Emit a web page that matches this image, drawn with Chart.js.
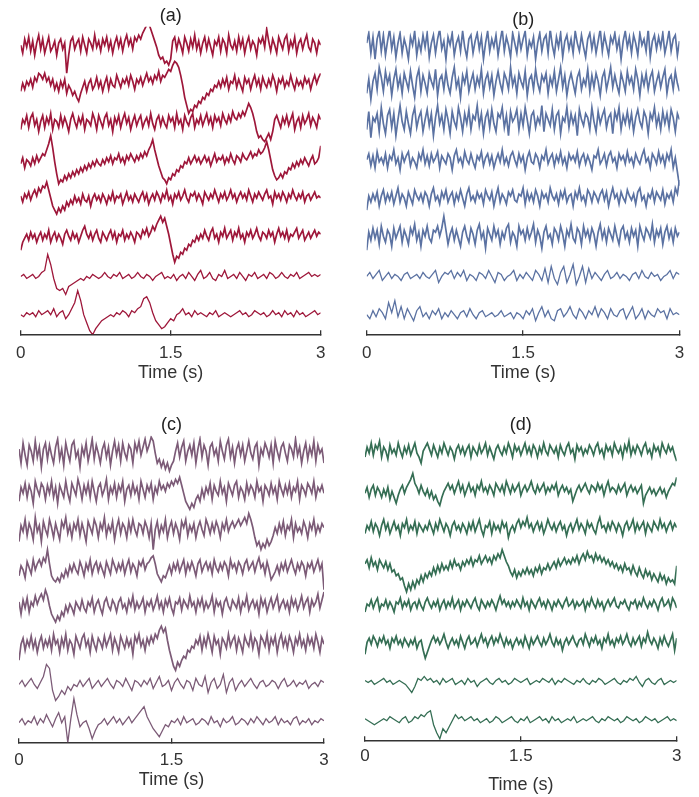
<!DOCTYPE html>
<html>
<head>
<meta charset="utf-8">
<script src="https://cdn.jsdelivr.net/npm/chart.js@4.4.1/dist/chart.umd.min.js"></script>
<style>
  body { margin: 0; background: #fff; width: 699px; height: 797px; position: relative; overflow: hidden; }
  canvas { position: absolute; }
</style>
</head>
<body>
<canvas id="panelA" width="340" height="384" style="left:0px;top:0px"></canvas>
<canvas id="panelB" width="350" height="384" style="left:347px;top:0px"></canvas>
<canvas id="panelC" width="345" height="386" style="left:0px;top:405px"></canvas>
<canvas id="panelD" width="354" height="391" style="left:345px;top:405px"></canvas>
<script>
// time axis
const tickValues = [0, 1.5, 3];
const duration = 3; // s, samples are evenly spread over this span

// channel values, top channel first (amplitude units)
const a1 = [1,-3,4,0,5,-2,3,-4,2,6, -1,4,-3,1,5,-2,0,3,-4,2, 4,-1,2,-13,-4,3,5,-1,2,4, -2,5,1,-3,4,2,-1,6,0,3, -2,4,1,5,-1,3,-3,2,5,0, 4,-2,3,6,1,4,-1,5,3,6, 4,7,9,11,12,9,6,3,0,-4, -6,-5,-8,-7,-9,-6,3,5,-1,4, 1,-3,5,2,-2,4,0,6,-1,3, -3,2,5,-1,4,0,-4,3,1,5, -2,4,2,-3,6,1,-1,3,-2,5, 0,4,-3,2,5,-1,3,1,-4,4, 2,5,0,9,3,-2,4,1,-3,5, 2,-1,4,6,-2,3,0,5,-3,2, 4,-1,3,6,0,-2,4,2,-3,3, 1];
const a2 = [-3,1,-2,2,0,3,-1,4,2,6, 5,3,6,2,4,0,3,-2,1,-3, 2,-1,3,-4,0,-2,-5,-3,-6,-8, -4,-1,2,-3,1,3,-2,0,4,-1, 2,-3,1,4,-2,3,0,-1,5,2, -1,3,1,4,0,5,2,-2,3,1, 4,0,3,6,2,4,1,5,3,7, 2,5,4,6,8,7,10,12,11,9, 5,0,-6,-10,-14,-12,-13,-10,-11,-8, -9,-6,-7,-4,-5,-2,-3,0,-1,2, -1,3,0,4,-2,2,1,5,-1,3, 0,-3,4,1,3,-2,2,5,0,3, -2,4,1,-1,3,0,5,2,-3,3, 1,4,-1,2,0,5,1,-2,3,0, 2,-1,4,1,3,-2,2,5,1,4, 6];
const a3 = [-3,2,0,4,-2,3,5,-1,2,-4, 1,4,-2,3,0,5,-3,2,1,-2, 4,-1,3,0,-4,2,5,1,-2,3, 0,4,-3,2,1,-1,5,2,-3,4, 1,-2,3,5,-1,2,-4,3,0,4, -2,2,5,0,3,-3,1,4,-1,2, 4,-2,1,3,-1,5,0,-3,2,4, -1,3,0,-2,4,1,3,-2,5,0, 2,-3,4,1,-1,3,5,-2,2,0, 4,-1,2,5,0,3,-2,4,1,3, -1,5,2,0,4,1,6,3,2,5, 3,6,4,7,10,8,5,1,-4,-7, -6,-8,-9,-7,-5,-8,-4,2,4,1, -2,3,0,4,-1,2,5,-3,1,3, -2,4,0,2,5,-1,3,1,-2,4, 2];
const a4 = [-1,2,-3,1,0,-2,2,-1,3,0, 2,4,3,6,9,13,7,0,-6,-11, -9,-10,-7,-9,-6,-8,-5,-7,-4,-6, -3,-5,-2,-4,-1,-3,0,-2,1,-1, -2,1,-1,2,0,3,-1,2,1,4, 0,2,-1,3,1,4,2,0,3,1, 4,2,5,3,6,8,11,6,2,-2, -5,-8,-9,-11,-8,-9,-6,-7,-4,-5, -2,-3,0,-1,2,-1,1,3,0,2, -1,1,3,0,2,-2,1,4,0,2, 1,3,-1,2,0,4,1,-1,3,2, 0,4,2,1,3,5,2,4,3,6, 4,5,7,10,6,1,-4,-7,-9,-8, -6,-8,-5,-6,-3,-4,-1,-3,0,-2, 1,-1,2,0,-2,1,3,-1,0,2, 8];
const a5 = [2,-1,3,1,4,0,3,5,2,6, 4,7,6,9,5,1,-3,-5,-7,-4, -6,-3,-5,-1,-3,0,-2,2,-1,1, -2,3,0,-1,2,-3,1,3,0,2, -1,3,1,-2,2,0,4,-1,2,1, 3,-2,1,4,0,2,-1,3,1,-1, 2,4,0,3,-2,1,3,0,4,2, -1,3,1,5,0,2,-2,3,1,4, 0,2,5,1,-1,3,2,4,0,3, 1,-2,4,2,0,3,1,5,2,-1, 3,1,4,0,2,5,1,3,-1,2, 4,1,3,0,5,2,-1,3,1,4, 2,0,3,5,1,2,-2,4,1,3, 0,4,2,-1,3,1,5,2,0,3, 1,4,-1,2,3,0,2,4,1,2, 1];
const a6 = [-6,-2,0,2,-1,3,0,2,-2,1, 3,-1,2,0,4,-2,1,3,-1,2, 0,-3,2,4,1,-1,3,0,2,-2, 1,4,6,2,0,3,-1,2,4,0, -2,3,1,-1,2,4,0,3,-2,2, 1,4,-1,2,0,3,1,-2,3,2, 0,4,2,5,1,3,6,4,7,9, 11,8,10,6,2,-3,-8,-12,-9,-10, -7,-8,-5,-6,-3,-4,-1,-2,1,-1, 2,0,4,1,-1,3,5,0,2,-2, 3,1,5,0,2,4,-1,3,1,5, 0,2,-2,3,1,4,0,2,5,1, -1,3,2,0,4,1,3,-2,2,5, 1,3,0,4,-1,2,1,3,5,0, 2,4,-1,1,3,0,2,4,1,3, 2];
const a7 = [0,1,-1,0,1,-1,0,2,3,11, 6,-1,-6,-7,-6,-9,-5,-4,-3,-2, -1,-2,0,-1,1,0,-1,0,2,0, -1,1,0,2,-1,0,1,-1,0,2, 0,-1,1,0,-2,0,1,2,-1,0, -1,1,-2,0,1,-1,2,0,-2,1, 3,-1,0,2,-1,-2,1,0,3,-1, 0,1,-1,2,0,-2,1,0,2,-1, 0,1,-1,2,1,-1,0,2,0,-1, 1,0,2,-1,0,1,2,0,1,0, 1];
const a8 = [0,-1,1,0,1,-1,2,0,1,2, 0,3,-1,1,2,-2,0,3,6,12, 7,0,-4,-8,-10,-7,-5,-3,-2,-1, 0,-1,1,0,2,1,-1,2,1,3, 4,8,9,6,1,-3,-5,-7,-6,-4, -2,-3,0,1,3,0,1,-1,2,0, 1,0,-1,1,0,2,-1,0,1,0, -1,0,1,2,0,1,-1,0,2,1, 0,1,-1,0,2,0,1,-1,2,0, 1,-1,2,0,1,-1,0,1,2,0, 1];

const b1 = [2,7,-3,5,-6,4,8,-2,6,-4, 3,9,-1,5,-5,2,7,-3,4,0, -6,5,1,8,-4,3,-2,6,0,7, -5,2,6,-3,4,9,-1,3,-6,5, 1,7,-4,2,5,-2,8,0,-5,4, 6,-3,3,7,-1,5,-6,2,8,-2, 4,0,6,-4,3,9,-2,5,1,-5, 7,2,-3,6,-1,4,8,-4,3,0, 5,-6,2,7,-2,4,6,-3,9,1, -4,5,0,7,-5,3,6,-1,4,-3, 8,2,-2,6,0,-5,4,7,-1,5, -3,3,9,-2,6,1,-4,5,2,7, -1,4,-6,3,8,0,5,-3,6,2, -4,7,1,4,-2,9,-5,3,6,-1, 5,0,7,-3,2,8,-2,4,6,-4, 3];
const b2 = [-4,3,-7,2,6,-2,9,4,-3,7, 1,5,-5,3,8,-1,4,-4,6,2, -2,7,0,-6,4,8,-3,5,1,-4, 6,2,-1,8,-5,3,5,-2,7,0, -4,4,9,-1,3,-6,5,1,7,-3, 2,6,-2,4,0,8,-4,3,6,-1, 5,-5,2,7,1,-3,6,3,-2,9, 0,4,-4,6,2,-1,7,-5,3,5, -2,8,1,-3,5,2,6,-4,4,0, 7,-3,3,9,-1,5,-5,2,6,1, -4,4,7,-2,3,0,8,-3,5,-1, 6,2,-5,4,7,-2,3,9,-1,5, 0,-4,6,2,-3,7,1,4,-2,8, 3,-5,5,0,6,-2,4,7,-3,2, 6,-1,4,8,-4,3,5,-2,7,1, -3];
const b3 = [-3,6,-7,3,1,5,-4,8,0,-5, 4,7,-2,5,-6,2,9,1,-3,6, 0,-5,4,8,-2,3,6,-4,2,7, -1,5,-6,3,9,0,4,-3,7,2, -5,6,1,-2,8,3,-4,5,0,7, -3,4,2,9,-1,5,-5,3,6,-2, 7,0,-4,5,3,8,-2,4,-6,6, 1,3,7,-3,5,-1,8,2,-5,4, 6,-2,3,0,9,-4,5,2,-1,7, -3,4,6,-5,3,1,8,-2,5,0, 4,-6,7,2,-1,5,3,-3,8,1, -4,6,0,4,7,-2,3,5,-5,6, 2,8,-3,4,0,6,-1,5,-4,3, 7,1,-2,6,3,-5,5,2,8,-1, 4,-3,6,0,5,-2,7,3,-4,5, 2];
const b4 = [1,4,-2,3,-3,5,0,2,-1,4, -3,3,1,6,-1,2,-4,4,0,3, 5,-2,2,0,-3,4,1,6,-1,3, -2,4,0,2,5,-3,3,1,-1,4, 2,-4,3,6,0,2,-2,5,1,-1, 4,0,-3,3,1,5,-2,2,4,-1, 3,-3,1,4,0,6,-1,2,-2,3, 5,1,-2,4,0,3,-4,2,5,0, -1,4,2,-3,3,1,6,-1,2,4, -2,3,0,5,-1,2,-3,4,1,3, 0,5,-2,2,4,-1,3,0,-4,3, 2,6,-1,1,4,-2,3,5,0,2, -3,4,1,3,-1,5,0,2,-2,4, 1,-1,3,6,0,2,-3,4,2,-1, 5,0,3,-2,4,1,6,-3,2,-5, -12];
const b5 = [-5,2,-1,3,0,4,-3,2,5,-1, 3,0,4,-2,2,6,-1,3,1,-3, 4,1,-2,5,2,0,3,-1,4,2, -3,3,6,0,2,-2,4,1,5,-1, 2,4,-2,3,0,5,1,-3,3,6, 0,2,-1,4,1,3,-2,5,2,0, 4,-3,2,6,-1,3,1,-2,4,2, 5,0,-1,3,2,6,-2,4,0,3, -1,5,2,-3,4,1,3,-1,6,2, 0,3,-2,4,1,5,-1,2,3,-3, 4,1,6,0,2,-2,5,3,-1,4, 2,-1,3,5,0,4,-3,2,6,1, 3,-2,4,1,-1,5,2,0,3,-2, 4,6,0,2,-3,3,1,5,-1,4, 2,0,5,-2,3,1,4,-1,6,3, 10];
const b6 = [-6,3,-1,5,0,4,-3,6,1,-2, 4,2,-4,5,0,3,6,-2,4,1, -3,5,2,7,-1,3,-4,4,1,6, 0,-2,4,3,6,1,5,11,4,-3, 2,5,-1,4,0,-4,3,6,1,-2, 5,2,-3,4,7,0,3,-5,5,2, -1,6,1,4,-3,3,0,5,7,-2, 3,1,-4,6,2,4,-1,5,0,3, 7,-2,4,1,-5,3,6,0,2,-3, 5,3,-1,6,2,-4,4,1,7,0, -2,5,3,-3,6,1,4,-1,5,2, -4,3,7,0,4,-2,5,2,-1,6, 1,-3,4,6,0,3,-2,5,1,4, -4,6,2,-1,5,3,0,7,-2,4, 1,5,-3,3,6,0,4,-2,5,1, 3];
const b7 = [0,2,-1,1,3,-2,0,2,-1,1, 0,-2,1,2,-1,0,1,-1,2,0, -1,1,3,-3,0,2,1,3,-1,2, 0,3,-2,1,0,-2,2,1,-1,3, 0,-3,2,1,-2,0,1,3,-2,1, -1,2,0,-2,3,1,-2,4,-3,5, -1,-4,2,5,-3,1,6,-4,0,5, -3,4,-1,2,0,-2,1,3,-1,0, 2,-1,1,0,-2,1,2,-1,3,0, -1,2,0,1,-2,0,1,3,-1,2, 1];
const b8 = [0,-2,2,-1,3,1,-2,6,1,7, -1,4,-2,3,0,-3,2,4,-1,1, -2,2,0,3,-2,1,-1,2,0,-2, 1,2,-1,3,0,-2,1,2,-1,0, 1,-1,0,2,-1,0,1,-2,1,0, -2,2,0,3,-3,1,4,-1,2,-2, -3,2,3,-1,1,4,0,-2,3,1, -2,2,0,4,-1,3,1,-2,3,0, -1,2,3,-2,1,4,-2,0,3,-2, 2,0,-1,3,1,2,-2,3,0,1, 0];

const c1 = [3,-4,6,0,-5,5,2,-3,7,-1, 4,-6,3,6,-2,5,0,-4,4,8, -2,3,-5,6,1,-3,5,7,-1,2, -6,4,0,6,-3,2,8,-2,5,1, -4,3,6,-1,4,-5,2,7,0,5, -3,6,1,-2,5,3,-4,6,2,7, 0,4,8,2,5,9,7,1,-4,-2, -6,-3,-7,-4,-8,-5,-3,2,6,-1, 4,7,-3,2,5,0,6,-4,3,8, -1,5,2,-5,4,6,0,3,-3,7, 2,-2,5,8,-1,4,-4,3,6,0, 5,-3,2,7,1,-2,4,6,-5,3, 0,6,3,-1,5,-4,7,2,-2,4, 6,1,-3,5,3,-1,8,0,4,-4, 2,6,-2,4,0,7,-3,5,1,3, -4];
const c2 = [-4,3,0,5,-2,4,1,-5,6,2, -1,5,3,-3,4,0,6,-2,3,-5, 4,1,-2,6,0,-4,5,2,-1,7, 3,-3,4,0,5,-2,6,1,-4,3, 5,-1,2,7,-3,3,0,5,-2,4, 1,6,-4,2,4,-1,5,0,3,-3, 6,2,-2,4,1,5,-3,3,0,6, 2,4,1,5,3,6,4,7,5,8, 4,0,-4,-6,-8,-5,-7,-3,-1,-4, 2,-2,3,0,5,-3,4,1,-1,6, 0,3,-4,5,2,-1,4,6,-2,3, 1,-3,5,0,4,2,-2,6,1,3, -4,4,2,-1,5,0,3,-3,6,2, -1,4,0,5,-2,3,1,6,-3,4, 2,-1,5,3,0,6,-2,3,1,4, 0];
const c3 = [-5,3,0,6,-2,4,1,-4,7,0, 3,-5,5,1,-2,6,2,-3,4,0, -4,5,2,7,-1,3,-3,4,1,6, -2,4,0,-5,5,2,-1,6,3,-3, 4,1,7,-2,3,0,5,-4,2,6, -1,4,2,-3,5,0,6,1,-2,4, 3,-1,5,2,-3,4,-9,1,5,-2, 3,0,6,-3,2,5,-1,4,1,-4, 5,2,6,-2,3,0,4,-3,2,5, 1,-2,6,3,-1,4,0,5,2,-3, 4,1,6,0,3,5,2,4,6,3, 5,7,4,9,6,2,-3,-7,-5,-9, -6,-8,-4,-7,-5,-2,2,-1,4,0, 5,-2,3,1,6,-3,4,0,2,-1, 5,2,-3,4,1,6,-1,3,0,4, 2];
const c4 = [-3,2,0,-4,4,1,-2,5,0,3, 5,2,6,4,10,3,-3,-5,-6,-4, -6,-2,-4,0,-3,2,-1,3,0,-2, 4,1,-3,3,0,5,-2,2,4,-1, 3,0,-3,4,1,-2,5,2,-1,3, 0,4,-2,2,5,-1,3,1,-3,4, 2,5,0,3,4,6,7,3,-2,-4, -6,-3,-4,-1,2,-2,3,0,4,-1, 2,5,-2,3,0,4,1,-3,3,5, -1,2,4,0,3,-2,5,1,-1,3, 0,4,2,-3,5,1,3,-1,4,2, -2,3,5,0,2,4,-1,3,6,1, 3,-2,4,0,-5,-3,-1,2,-2,3, 0,4,-1,2,5,1,-2,3,0,4, 2,-3,3,1,4,-1,2,5,0,3, -10];
const c5 = [3,-3,4,0,5,-2,3,1,6,2, 5,7,4,9,6,1,-3,-5,-7,-4, -6,-2,-4,1,-2,2,0,-3,3,1, -1,4,0,-2,3,1,5,-2,2,4, 0,-3,3,5,1,-1,4,2,-2,3, 5,0,2,-2,4,1,6,-1,3,0, 2,5,-2,3,1,4,-1,2,6,0, 3,-2,4,1,5,0,-3,3,2,5, -1,4,2,0,6,1,3,-2,4,1, 5,-1,3,0,2,6,-2,4,1,3, -3,3,5,1,-1,4,2,0,5,-2, 3,1,6,-1,2,4,0,3,-3,5, 1,4,-2,2,5,0,3,6,-1,2, 4,0,3,-2,5,1,4,-1,2,6, 0,3,5,-2,4,1,3,7,0,4, 8];
const c6 = [-7,1,4,-2,3,0,5,-1,3,-3, 2,5,-1,3,0,4,-2,6,1,3, -3,4,0,6,-2,3,1,-4,5,2, -1,4,6,0,3,-3,5,1,-2,4, 2,-1,5,0,3,6,-2,4,1,-3, 5,2,-1,4,0,3,-4,5,2,6, 0,3,-2,4,1,5,2,6,4,8, 10,7,9,3,-2,-6,-10,-12,-8,-10, -7,-5,-6,-2,-3,0,-1,3,1,5, -2,4,0,6,2,-3,5,1,3,-4, 4,2,-1,6,0,3,5,-2,4,1, -3,5,2,0,6,-1,4,2,-4,5, 3,0,6,-2,4,1,5,-3,3,6, 0,4,-1,5,2,-3,4,1,6,0, 3,-2,5,1,4,-1,6,2,-3,4, 1];
const c7 = [0,2,-1,1,3,0,-2,1,4,10, 8,-3,-8,-6,-3,-5,-1,-3,0,-1, 2,-1,1,3,-2,0,2,-1,1,3, 0,-2,2,1,-1,3,0,-3,2,1, -1,2,0,3,-2,1,4,-1,0,2, -3,1,3,0,-2,2,1,-3,3,0, -1,4,-4,1,3,-2,0,5,-4,1, 3,-3,0,2,-1,1,3,0,-2,1, 2,-1,0,2,1,-2,1,3,-1,0, 2,-1,1,0,2,-2,0,1,-1,2, 1];
const c8 = [0,2,-1,1,0,3,-1,2,0,4, 1,-2,2,5,0,3,-10,2,12,4, -2,0,1,-3,-8,-4,-1,0,2,-1, 1,3,0,2,-1,1,3,0,2,4, 6,8,3,0,-3,-5,-7,-4,-1,-2, 1,0,2,-1,3,0,1,2,-1,0, 2,1,-1,3,0,1,-2,2,0,1, 3,-1,0,2,1,-1,2,0,3,1, -1,2,0,1,3,-1,2,0,1,-1, 2,3,-1,1,0,2,-1,1,0,2, 1];

const d1 = [-2,3,0,5,-1,4,2,6,-2,3, 1,-3,4,0,2,-1,5,1,-2,3, 0,4,-1,2,5,0,-2,-5,1,3, 5,2,-1,4,1,-2,3,0,5,2, -1,3,1,-3,2,4,0,3,-1,2, 4,-2,3,1,-1,4,0,2,5,-1, 3,0,-3,2,4,1,-1,3,0,5, 2,-2,4,1,3,-1,2,5,0,3, -1,4,2,-2,3,0,5,1,-1,4, 2,0,3,-2,4,1,-1,3,5,0, 2,-3,4,1,3,-1,2,0,4,2, -1,3,5,0,2,-2,4,1,3,-1, 5,2,0,3,-2,4,1,6,-1,3, 0,4,2,-1,3,5,0,2,-2,4, 1,3,-1,5,2,0,4,1,3,-1, -4];
const d2 = [-1,2,-3,1,3,-2,2,0,-3,1, -2,2,-4,0,-3,-6,-2,1,3,-1, 2,4,6,9,4,2,-1,3,0,-2, 1,-3,0,-4,-2,-5,-7,-3,0,2, 4,1,3,-1,2,5,0,3,-2,1, 4,0,2,-2,3,1,5,0,2,-1, 3,1,-2,4,2,0,3,-1,5,2, -1,3,0,2,4,-2,1,3,0,2, 5,1,-1,3,0,2,4,-1,2,0, 3,1,4,-2,1,3,0,2,-1,1, -5,-2,1,3,0,2,4,1,-1,3, 2,0,4,1,3,-2,2,5,0,2, 1,-1,3,0,2,4,-2,1,3,0, 2,-1,1,3,-6,-2,0,2,-1,1, -2,0,2,-1,1,-3,0,2,4,3, 7];
const d3 = [-2,2,0,4,-1,3,1,-3,2,5, 0,3,-2,1,4,0,2,-3,3,1, 5,-1,2,0,4,-2,3,1,-1,2, 0,4,1,-2,3,0,5,2,-1,3, 1,-3,2,4,0,2,-1,3,1,-2, 3,0,4,-1,2,5,0,-3,2,1, 4,-2,3,0,2,-1,4,1,3,-4, 0,2,-1,3,5,1,4,2,6,1, 3,-1,2,4,0,3,-2,1,5,2, 0,3,-1,2,4,0,2,-3,1,3, -1,2,5,0,3,1,-2,4,1,3, 0,-2,3,6,1,2,-1,3,0,4, 2,-1,3,1,-3,2,4,0,2,5, -1,3,0,2,4,-2,3,1,-1,4, 2,0,5,1,3,-1,2,4,0,3, 1];
const d4 = [2,4,0,5,1,3,-1,4,2,0, 3,-1,2,-2,-1,-4,-3,-6,-5,-9, -12,-8,-11,-7,-10,-6,-8,-4,-7,-3, -5,-2,-4,0,-3,1,-2,2,-1,1, -1,3,0,4,1,2,-1,3,1,4, 2,5,1,4,3,6,2,4,6,3, 5,2,6,4,7,5,9,6,3,1, -2,-4,-1,-5,-2,-4,-1,-3,0,-3, -1,-4,0,-2,1,-3,0,-1,2,-1, 1,3,0,4,1,3,5,2,4,2, 5,3,6,2,5,7,4,8,5,6, 3,7,4,6,3,5,2,4,1,3, 0,2,-1,1,-2,2,-1,0,-3,1, -2,-4,0,-3,-5,-1,-4,-2,-6,-3, -5,-7,-3,-6,-4,-8,-5,-7,-6,-8, 1];
const d5 = [-3,1,0,3,-1,2,4,-2,1,0, 3,-1,2,0,-3,2,1,4,-1,2, 0,3,-2,1,2,-1,3,0,-2,2, 4,1,-1,2,0,3,-2,1,3,-1, 2,0,4,-1,1,3,-2,2,0,3, 1,-1,2,4,0,-2,3,1,-1,2, 0,3,1,-2,2,5,1,3,0,2, -1,2,0,3,1,-1,4,0,2,-2, 3,1,-1,2,4,0,2,-1,3,1, -2,2,0,3,1,-1,2,4,0,1, 3,-1,2,0,1,3,-2,2,0,4, 1,-1,3,0,2,-2,1,3,0,2, 4,0,-1,2,1,3,0,-2,2,1, 3,-1,2,0,4,1,-1,2,0,3, 1,-2,2,4,0,1,3,-1,4,2, -1];
const d6 = [-5,1,3,0,4,2,-1,3,1,4, 0,2,-2,3,1,4,0,2,-1,3, 1,-1,2,0,3,-2,1,2,-3,-7, -4,-1,2,4,1,3,0,2,5,1, -2,1,3,0,2,-1,4,1,-2,2, 4,0,1,3,-1,2,5,1,3,-1, 2,4,0,3,1,5,2,-1,3,0, 2,-2,1,3,0,2,-1,4,1,-2, 3,0,2,4,1,-1,3,0,2,5, 1,-1,3,0,2,-3,1,3,0,2, 4,1,-1,2,3,0,5,2,-1,3, 1,4,0,2,-2,3,1,5,0,2, -1,3,1,4,0,2,5,1,-1,3, 0,2,4,-1,3,1,6,2,0,3, 1,-2,3,0,4,1,-1,2,5,-3, 3];
const d7 = [1,0,1,-1,0,1,2,0,1,-1, 0,1,0,-1,-3,-5,-2,2,1,3, 1,2,0,1,-1,2,0,1,2,-1, 0,1,-1,2,0,1,-2,0,1,2, 0,-1,1,2,0,1,-1,0,2,1, 0,1,2,-1,0,1,0,2,1,0, 2,-1,1,0,2,1,0,-1,1,0, 2,0,-1,1,0,2,1,-1,0,1, 2,0,-1,1,0,2,1,3,0,-2, 1,2,0,-1,1,2,-1,0,1,0, 1];
const d8 = [1,0,-1,-2,-1,0,1,0,2,1, 0,-1,1,2,-1,0,2,1,3,2, 4,5,-2,-6,-9,-4,-6,-3,0,3, 1,2,0,1,2,0,1,-1,0,1, -1,0,2,1,-1,0,1,2,0,-1, 1,0,2,-1,0,1,2,0,1,-1, 2,0,1,-1,0,1,0,2,-1,0, 1,0,1,2,0,-1,1,0,2,1, 0,1,-1,0,2,1,0,1,-1,0, 2,1,0,1,-1,0,1,2,0,1, 0];

const chBase = 9.75; // centre of the bottom channel
const chGap = 19.1;  // spacing between channels

Chart.defaults.font.family = '"Liberation Sans", Arial, Helvetica, sans-serif';

function buildDatasets(traces, color) {
  return traces.map((vals, k) => ({
    data: vals.map((v, i) => ({
      x: i * duration / (vals.length - 1),
      y: chBase + (traces.length - 1 - k) * chGap + v
    })),
    borderColor: color,
    borderWidth: k >= 6 ? 1.3 : 1.7,
    pointRadius: 0,
    tension: 0
  }));
}

function drawPanel(id, label, traces, color, g) {
  new Chart(document.getElementById(id), {
    type: 'line',
    data: { datasets: buildDatasets(traces, color) },
    options: {
      responsive: false,
      animation: false,
      devicePixelRatio: 1,
      layout: { padding: { left: g.left, right: g.right, top: 0, bottom: 0 } },
      plugins: {
        legend: { display: false },
        tooltip: { enabled: false },
        title: {
          display: true, text: label, color: '#222',
          font: { size: 18, weight: 'normal' },
          padding: { top: g.titleTop, bottom: 0 }
        }
      },
      scales: {
        x: {
          type: 'linear', min: 0, max: duration,
          afterBuildTicks: s => { s.ticks = tickValues.map(v => ({ value: v })); },
          afterFit: s => { s.height = g.axisH; },
          // negative length: tick marks point up into the plot, like the original
          grid: { drawOnChartArea: false, tickLength: -4, color: '#333', lineWidth: 1.3 },
          border: { color: '#333', width: 1.4 },
          ticks: { color: '#333', font: { size: 17 }, padding: g.tickPad + 8, maxRotation: 0, autoSkip: false },
          title: { display: true, text: 'Time (s)', color: '#333', font: { size: 18 }, padding: 0 }
        },
        y: { display: false, min: 0, max: g.ymax }
      }
    }
  });
}

drawPanel('panelA', '(a)', [a1, a2, a3, a4, a5, a6, a7, a8], '#9e173a',
  { left: 20.7, right: 19.3, titleTop: 5.2, tickPad: 4.8, axisH: 49.8, ymax: 153.6 });
drawPanel('panelB', '(b)', [b1, b2, b3, b4, b5, b6, b7, b8], '#5b72a2',
  { left: 19.7, right: 17, titleTop: 9.2, tickPad: 4.8, axisH: 49.8, ymax: 151.6 });
drawPanel('panelC', '(c)', [c1, c2, c3, c4, c5, c6, c7, c8], '#7c5b77',
  { left: 19, right: 21, titleTop: 9.2, tickPad: 3.8, axisH: 48.8, ymax: 153.1 });
drawPanel('panelD', '(d)', [d1, d2, d3, d4, d5, d6, d7, d8], '#356e54',
  { left: 20, right: 22.3, titleTop: 9.2, tickPad: 1.8, axisH: 55.8, ymax: 152.1 });
</script>
</body>
</html>
